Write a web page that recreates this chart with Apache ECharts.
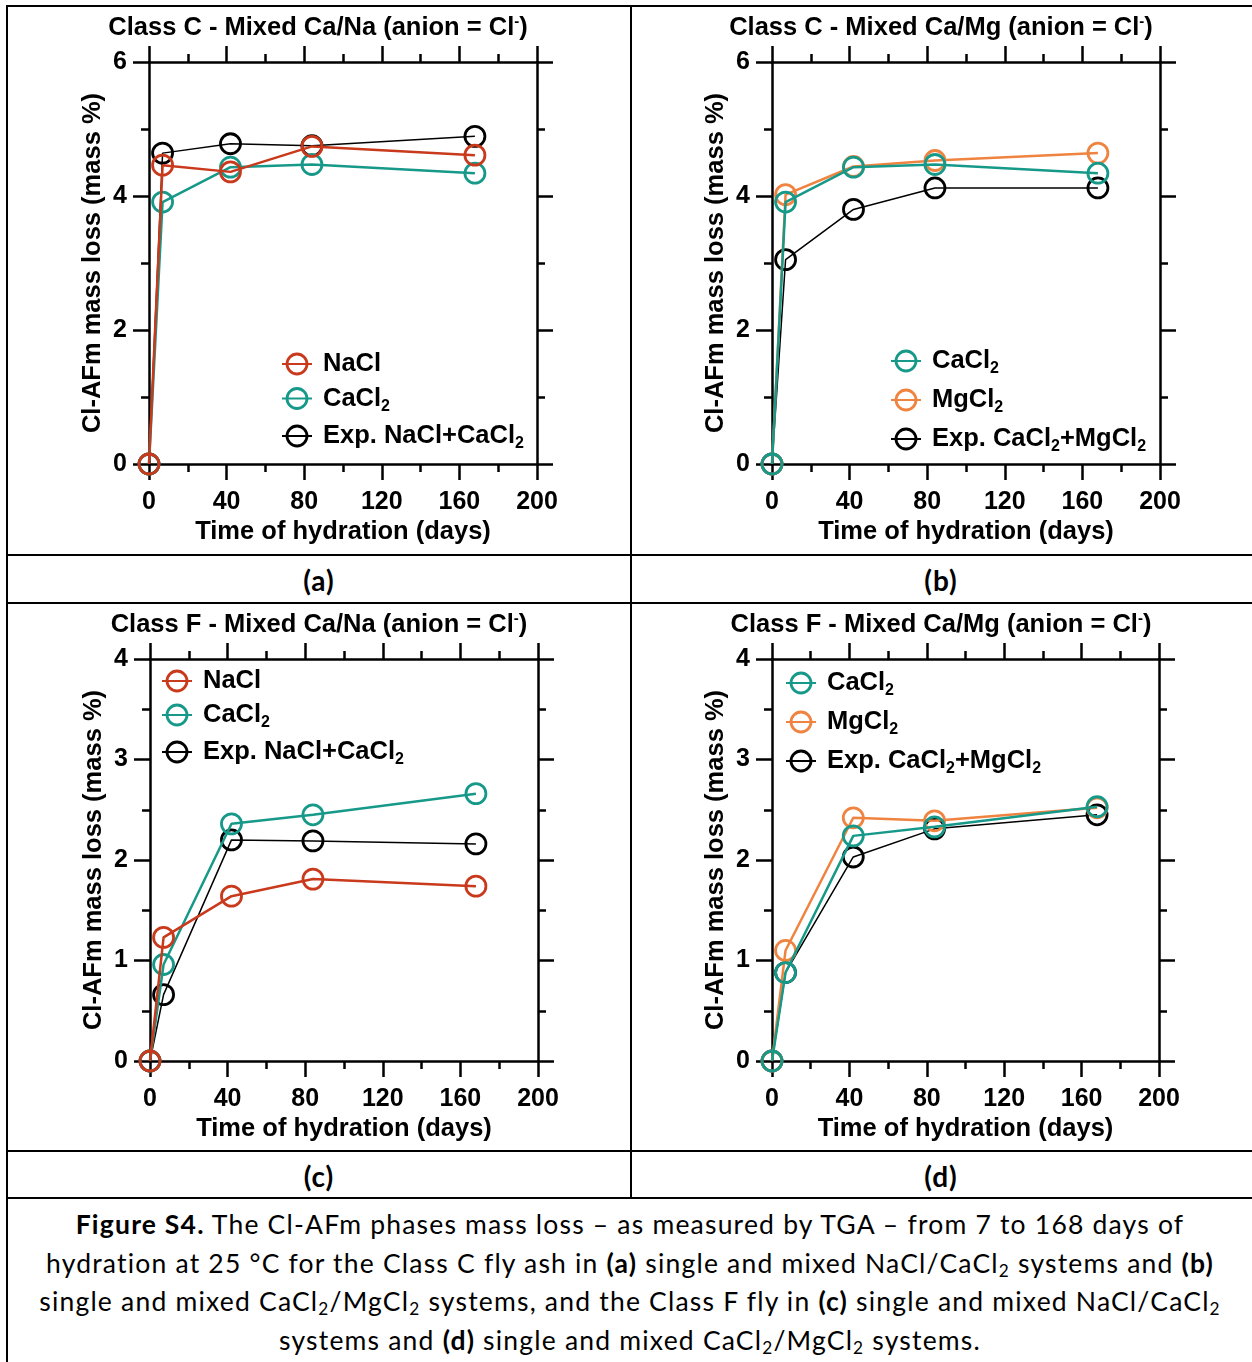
<!DOCTYPE html>
<html>
<head>
<meta charset="utf-8">
<script src="https://cdn.jsdelivr.net/npm/echarts@6/dist/echarts.min.js"></script>
<style>
  html, body { margin: 0; padding: 0; background: #fff; }
  #page { position: relative; width: 1252px; height: 1362px; overflow: hidden; background: #fff; }
  .hl { position: absolute; height: 2px; background: #000; }
  .vl { position: absolute; width: 2px; background: #000; }
  .lab { position: absolute; width: 120px; text-align: center; font: bold 28px Lato, sans-serif; line-height: 30px; letter-spacing: 1px; }
  #caption { position: absolute; left: 8px; top: 1205px; width: 1244px; text-align: center;
    font: 26.5px Lato, sans-serif; letter-spacing: 1.2px; line-height: 38.7px; white-space: nowrap; color: #000; }
  #caption .s { font-size: 0.65em; vertical-align: -0.22em; line-height: 0; }
  #chart { position: absolute; left: 0; top: 0; width: 1252px; height: 1362px; }
</style>
</head>
<body>
<div id="page">
  <div class="hl" style="left:7px;top:5px;width:1245px"></div>
  <div class="vl" style="left:6px;top:5px;height:1357px"></div>
  <div class="vl" style="left:630px;top:5px;height:1194px"></div>
  <div class="hl" style="left:7px;top:554px;width:1245px"></div>
  <div class="hl" style="left:7px;top:602px;width:1245px"></div>
  <div class="hl" style="left:7px;top:1150px;width:1245px"></div>
  <div class="hl" style="left:7px;top:1197px;width:1245px"></div>
  <div class="lab" style="left:259px;top:565px">(a)</div>
  <div class="lab" style="left:881px;top:565px">(b)</div>
  <div class="lab" style="left:259px;top:1161px">(c)</div>
  <div class="lab" style="left:881px;top:1161px">(d)</div>
  <div id="caption">
    <b>Figure S4.</b> The Cl-AFm phases mass loss – as measured by TGA – from 7 to 168 days of<br>
    hydration at 25 °C for the Class C fly ash in <b>(a)</b> single and mixed NaCl/CaCl<span class="s">2</span> systems and <b>(b)</b><br>
    single and mixed CaCl<span class="s">2</span>/MgCl<span class="s">2</span> systems, and the Class F fly in <b>(c)</b> single and mixed NaCl/CaCl<span class="s">2</span><br>
    systems and <b>(d)</b> single and mixed CaCl<span class="s">2</span>/MgCl<span class="s">2</span> systems.
  </div>
  <div id="chart"></div>
</div>
<script>
// time of hydration (days)
const days = [0, 7, 42, 84, 168];

// (a) Class C - Ca/Na
const aNaCl = [0, 4.46, 4.36, 4.74, 4.61];
const aCaCl2 = [0, 3.91, 4.43, 4.47, 4.34];
const aExp = [0, 4.64, 4.78, 4.75, 4.89];
// (b) Class C - Ca/Mg
const bCaCl2 = [0, 3.91, 4.43, 4.47, 4.34];
const bMgCl2 = [0, 4.02, 4.44, 4.53, 4.64];
const bExp = [0, 3.05, 3.80, 4.12, 4.12];
// (c) Class F - Ca/Na
const cNaCl = [0, 1.23, 1.64, 1.81, 1.74];
const cCaCl2 = [0, 0.96, 2.36, 2.45, 2.66];
const cExp = [0, 0.66, 2.20, 2.19, 2.16];
// (d) Class F - Ca/Mg
const dCaCl2 = [0, 0.88, 2.24, 2.33, 2.53];
const dMgCl2 = [0, 1.10, 2.42, 2.39, 2.52];
const dExp = [0, 0.88, 2.03, 2.31, 2.45];

const FONT = '"Liberation Sans", Arial, sans-serif';
const RED = '#c9391b', TEAL = '#17998a', ORANGE = '#ef8340', BLACK = '#000';

const panels = [
  { title: 'Class C - Mixed Ca/Na (anion = Cl', tx: 318, ty: 14,
    grid: { left: 149, top: 62, width: 388, height: 402 }, yMax: 6, yStep: 2,
    legend: { left: 281, top: 351, gap: 8.5 },
    order: ['NaCl', 'CaCl2', 'Exp. NaCl+CaCl2'],
    series: [['Exp. NaCl+CaCl2', aExp, BLACK, 1.5], ['CaCl2', aCaCl2, TEAL, 2.5], ['NaCl', aNaCl, RED, 2.5]] },
  { title: 'Class C - Mixed Ca/Mg (anion = Cl', tx: 941, ty: 14,
    grid: { left: 772, top: 62, width: 388, height: 402 }, yMax: 6, yStep: 2,
    legend: { left: 890, top: 348, gap: 10 },
    order: ['CaCl2', 'MgCl2', 'Exp. CaCl2+MgCl2'],
    series: [['Exp. CaCl2+MgCl2', bExp, BLACK, 1.5], ['MgCl2', bMgCl2, ORANGE, 2.5], ['CaCl2', bCaCl2, TEAL, 2.5]] },
  { title: 'Class F - Mixed Ca/Na (anion = Cl', tx: 319, ty: 611,
    grid: { left: 150, top: 659, width: 388, height: 402 }, yMax: 4, yStep: 1,
    legend: { left: 161, top: 668, gap: 8 },
    order: ['NaCl', 'CaCl2', 'Exp. NaCl+CaCl2'],
    series: [['Exp. NaCl+CaCl2', cExp, BLACK, 1.5], ['CaCl2', cCaCl2, TEAL, 2.5], ['NaCl', cNaCl, RED, 2.5]] },
  { title: 'Class F - Mixed Ca/Mg (anion = Cl', tx: 941, ty: 611,
    grid: { left: 772, top: 659, width: 387, height: 402 }, yMax: 4, yStep: 1,
    legend: { left: 785, top: 670, gap: 10 },
    order: ['CaCl2', 'MgCl2', 'Exp. CaCl2+MgCl2'],
    series: [['Exp. CaCl2+MgCl2', dExp, BLACK, 1.5], ['MgCl2', dMgCl2, ORANGE, 2.5], ['CaCl2', dCaCl2, TEAL, 2.5]] },
];

const lbl = { fontFamily: FONT, fontWeight: 'bold', fontSize: 25.5, color: '#000' };
const axisLine = { show: true, onZero: false, lineStyle: { color: '#000', width: 2.5 } };
const tick = { show: true, length: 16, lineStyle: { color: '#000', width: 2.5 } };
const minor = { show: true, splitNumber: 2, length: 8, lineStyle: { color: '#000', width: 2.5 } };

function richify(name) {
  return name.split(/(2)/).filter(s => s).map(s => s === '2' ? '{s|2}' : '{n|' + s + '}').join('');
}

const option = { animation: false, title: [], grid: [], xAxis: [], yAxis: [], legend: [], series: [] };

panels.forEach((p, i) => {
  option.grid.push(p.grid);
  option.title.push({
    text: '{t|' + p.title + '}{p|-}{t|)}', left: p.tx, top: p.ty, textAlign: 'center', padding: 0,
    textStyle: { rich: {
      t: { ...lbl, lineHeight: 28 },
      p: { ...lbl, fontSize: 15, lineHeight: 15, verticalAlign: 'top' },
    } },
  });
  const common = { type: 'value', gridIndex: i, axisLine, axisTick: tick, minorTick: minor,
    splitLine: { show: false }, minorSplitLine: { show: false } };
  option.xAxis.push({ ...common, min: 0, max: 200, interval: 40, position: 'bottom',
    axisLabel: { ...lbl, fontSize: 25, margin: 26 },
    name: 'Time of hydration (days)', nameLocation: 'middle', nameGap: 55, nameTextStyle: lbl });
  option.xAxis.push({ ...common, min: 0, max: 200, interval: 40, position: 'top', axisLabel: { show: false } });
  option.yAxis.push({ ...common, min: 0, max: p.yMax, interval: p.yStep, position: 'left',
    axisLabel: { ...lbl, fontSize: 25, margin: 22 },
    name: 'Cl-AFm mass loss (mass %)', nameLocation: 'middle', nameGap: 43, nameTextStyle: lbl });
  option.yAxis.push({ ...common, min: 0, max: p.yMax, interval: p.yStep, position: 'right', axisLabel: { show: false } });

  option.legend.push({
    orient: 'vertical', left: p.legend.left, top: p.legend.top, padding: 0, itemGap: p.legend.gap,
    itemWidth: 30, itemHeight: 25, selectedMode: false, data: p.order,
    itemStyle: { borderWidth: 2.8 },
    formatter: richify,
    textStyle: { ...lbl, padding: [0, 0, 0, 6], rich: {
      n: { ...lbl, lineHeight: 32 },
      s: { ...lbl, fontSize: 16, lineHeight: 16, verticalAlign: 'bottom' },
    } },
  });

  p.series.forEach(([name, vals, color, width], k) => {
    option.series.push({
      type: 'line', name, xAxisIndex: 2 * i, yAxisIndex: 2 * i, z: 2 + k, clip: false,
      data: days.map((d, j) => [d, vals[j]]),
      symbol: 'circle', symbolSize: 20, showSymbol: true,
      itemStyle: { color: 'rgba(0,0,0,0)', borderColor: color, borderWidth: 2.8 },
      lineStyle: { color, width },
      emphasis: { disabled: true }, silent: true,
    });
  });
});

const chart = echarts.init(document.getElementById('chart'), null, { renderer: 'canvas' });
chart.setOption(option);
</script>
</body>
</html>
